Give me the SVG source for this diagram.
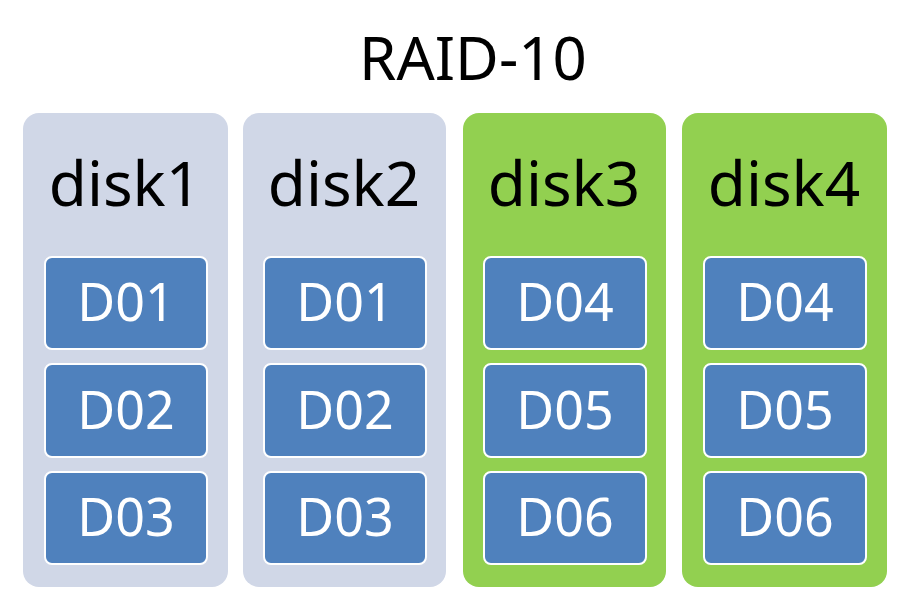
<svg xmlns="http://www.w3.org/2000/svg" width="911" height="607" viewBox="0 0 911 607">
<style>
.col{stroke:none}
.g{fill:#d0d7e7}
.gr{fill:#92d050}
.b{fill:#4f81bd;stroke:#fff;stroke-width:2}
.t{font-family:"Noto Sans","Open Sans",sans-serif;text-anchor:middle}
.bt{fill:#fff;font-size:52px}
.dt{fill:#000;font-size:62px}
</style>
<rect width="911" height="607" fill="#fff"/>
<text class="t" x="473" y="80" font-size="60">RAID-10</text>
<g id="disk1"><rect class="col g" x="23" y="113" width="205" height="474" rx="16"/><text class="t dt" x="125" y="206">disk1</text>
<rect class="b" x="45" y="257" width="162" height="92" rx="7"/><text class="t bt" x="126" y="321">D01</text>
<rect class="b" x="45" y="364" width="162" height="93" rx="7"/><text class="t bt" x="126" y="429">D02</text>
<rect class="b" x="45" y="472" width="162" height="92" rx="7"/><text class="t bt" x="126" y="536">D03</text></g>
<g id="disk2"><rect class="col g" x="243" y="113" width="203" height="474" rx="16"/><text class="t dt" x="344" y="206">disk2</text>
<rect class="b" x="264" y="257" width="162" height="92" rx="7"/><text class="t bt" x="345" y="321">D01</text>
<rect class="b" x="264" y="364" width="162" height="93" rx="7"/><text class="t bt" x="345" y="429">D02</text>
<rect class="b" x="264" y="472" width="162" height="92" rx="7"/><text class="t bt" x="345" y="536">D03</text></g>
<g id="disk3"><rect class="col gr" x="463" y="113" width="203" height="474" rx="16"/><text class="t dt" x="564" y="206">disk3</text>
<rect class="b" x="484" y="257" width="162" height="92" rx="7"/><text class="t bt" x="565" y="321">D04</text>
<rect class="b" x="484" y="364" width="162" height="93" rx="7"/><text class="t bt" x="565" y="429">D05</text>
<rect class="b" x="484" y="472" width="162" height="92" rx="7"/><text class="t bt" x="565" y="536">D06</text></g>
<g id="disk4"><rect class="col gr" x="682" y="113" width="205" height="474" rx="16"/><text class="t dt" x="784" y="206">disk4</text>
<rect class="b" x="704" y="257" width="162" height="92" rx="7"/><text class="t bt" x="785" y="321">D04</text>
<rect class="b" x="704" y="364" width="162" height="93" rx="7"/><text class="t bt" x="785" y="429">D05</text>
<rect class="b" x="704" y="472" width="162" height="92" rx="7"/><text class="t bt" x="785" y="536">D06</text></g>
<g id="connectors"/>
</svg>
